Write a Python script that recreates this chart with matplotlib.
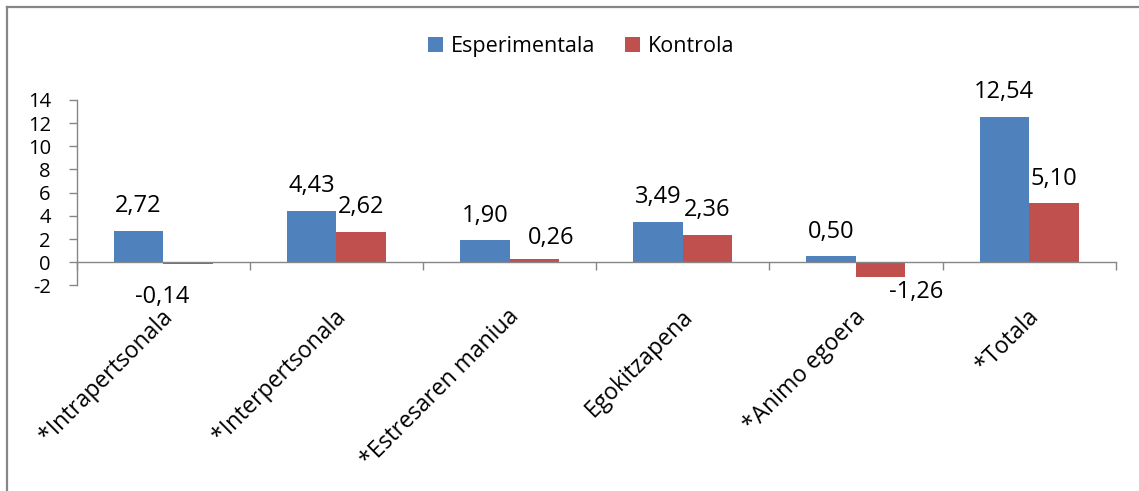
import matplotlib
matplotlib.use("Agg")
import matplotlib.pyplot as plt
from matplotlib.patches import Patch
from matplotlib.lines import Line2D
import numpy as np

# --- data -------------------------------------------------------------
categories = ["*Intrapertsonala", "*Interpertsonala", "*Estresaren maniua",
              "Egokitzapena", "*Animo egoera", "*Totala"]
esperimentala = [2.72, 4.43, 1.90, 3.49, 0.50, 12.54]
kontrola = [-0.14, 2.62, 0.26, 2.36, -1.26, 5.10]
series_names = ["Esperimentala", "Kontrola"]
y_ticks = [-2, 0, 2, 4, 6, 8, 10, 12, 14]

# --- style ------------------------------------------------------------
BLUE = "#4F81BD"
RED = "#C0504D"
GRAY = "#868686"
FONT = "Open Sans"
FS_TICK = 14.5
FS_VAL = 17
FS_LEG = 15.5
FS_CAT = 16.5
plt.rcParams["font.family"] = [FONT, "DejaVu Sans"]

DPI = 100
W, H = 1139, 491
fig = plt.figure(figsize=(W / DPI, H / DPI), dpi=DPI)
ax = fig.add_axes([76.5 / W, 1 - 285.5 / H, (1115.7 - 76.5) / W, (285.5 - 99.8) / H])

x = np.arange(len(categories))
bw = 1 / 3.5  # gap width 150%
ax.bar(x - bw / 2, esperimentala, bw, color=BLUE, zorder=2)
ax.bar(x + bw / 2, kontrola, bw, color=RED, zorder=2)

ax.set_xlim(-0.5, len(categories) - 0.5)
ax.set_ylim(-2, 14)
ax.set_yticks(y_ticks)
ax.set_yticklabels([str(t) for t in y_ticks], fontsize=FS_TICK)

for s in ("top", "right"):
    ax.spines[s].set_visible(False)
ax.spines["left"].set_color(GRAY)
ax.spines["left"].set_linewidth(1.0)
ax.spines["bottom"].set_position(("data", 0))
ax.spines["bottom"].set_color(GRAY)
ax.spines["bottom"].set_linewidth(1.0)
ax.spines["bottom"].set_zorder(3)

ax.tick_params(axis="y", direction="out", length=5.5, width=1.0, color=GRAY, pad=13)
ax.set_xticks(np.arange(-0.5, len(categories)))
ax.tick_params(axis="x", direction="out", length=5.8, width=1.0, color=GRAY, labelbottom=False)

# category labels, rotated, hanging below the plot area
for xi, name in zip(x, categories):
    ax.annotate(name, xy=(xi, 0), xycoords=("data", "axes fraction"),
                xytext=(-1.5, -14), textcoords="offset points",
                ha="right", va="top", rotation=45, rotation_mode="anchor",
                fontsize=FS_CAT)

# value labels; a few are shifted sideways to keep clear of neighbours
PX = 72 / DPI
label_nudge = {(1, 0): (-26, 18), (1, 2): (17, 3.5), (1, 4): (35, 0)}
for si, vals in enumerate([esperimentala, kontrola]):
    for ci, v in enumerate(vals):
        xc = x[ci] + (si - 0.5) * bw
        dx, dy = label_nudge.get((si, ci), (0, 0))
        txt = f"{v:.2f}".replace(".", ",")
        if v >= 0:
            ax.annotate(txt, xy=(xc, v), xytext=(dx * PX, (18.5 - dy) * PX),
                        textcoords="offset points", ha="center", va="baseline",
                        fontsize=FS_VAL)
        else:
            ax.annotate(txt, xy=(xc, v), xytext=(dx * PX, (-3 - dy) * PX),
                        textcoords="offset points", ha="center", va="top",
                        fontsize=FS_VAL)

# legend
handles = [Patch(facecolor=BLUE, edgecolor="none"), Patch(facecolor=RED, edgecolor="none")]
fig.legend(handles, series_names, loc="center", bbox_to_anchor=(581 / W, 1 - 46.5 / H),
           ncol=2, frameon=False, fontsize=FS_LEG, handlelength=0.7, handleheight=0.7,
           handletextpad=0.35, columnspacing=1.4, borderpad=0)

# chart frame (top and left edges)
fig.add_artist(Line2D([7 / W, 7 / W], [0, 1 - 7 / H], transform=fig.transFigure,
                      color=GRAY, linewidth=1.6))
fig.add_artist(Line2D([7 / W, 1], [1 - 7 / H, 1 - 7 / H], transform=fig.transFigure,
                      color=GRAY, linewidth=1.6))

fig.savefig("out.png", dpi=DPI, facecolor="white")
